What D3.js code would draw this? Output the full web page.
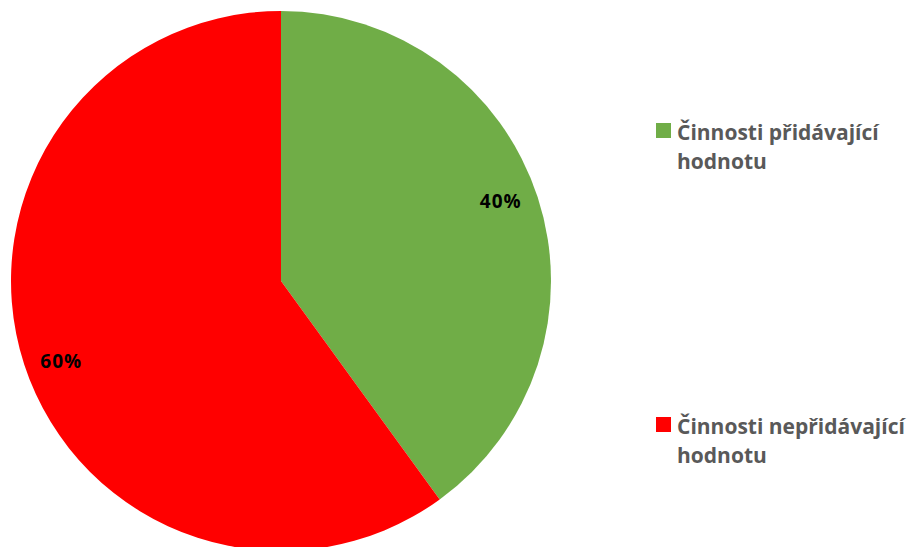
<!DOCTYPE html>
<html><head><meta charset="utf-8">
<script src="https://cdn.jsdelivr.net/npm/d3@7"></script>
<style>body{margin:0;background:#fff}svg{display:block}</style>
</head><body>
<script>
const categories = ["Činnosti přidávající hodnotu", "Činnosti nepřidávající hodnotu"];
const values = [40, 60];
const labels = ["40%", "60%"];
const legendLines = [["Činnosti přidávající", "hodnotu"], ["Činnosti nepřidávající", "hodnotu"]];
const colors = ["#70AD47", "#FF0000"];

const W = 914, H = 547;
const svg = d3.select("body").append("svg").attr("width", W).attr("height", H);
const cx = 281, cy = 281, r = 270;
const pie = d3.pie().sort(null).value(d => d)(values);
const arc = d3.arc().innerRadius(0).outerRadius(r);
const lr = r * 0.866, shift = -2 * Math.PI / 180;
const g = svg.append("g").attr("transform", `translate(${cx},${cy})`);
g.selectAll("path").data(pie).join("path").attr("d", arc).attr("fill", (d, i) => colors[i]);
g.selectAll("text").data(pie).join("text")
  .attr("x", d => lr * Math.sin((d.startAngle + d.endAngle) / 2 + shift))
  .attr("y", d => -lr * Math.cos((d.startAngle + d.endAngle) / 2 + shift) + 7)
  .attr("text-anchor", "middle")
  .attr("font-family", "'Open Sans', sans-serif").attr("font-weight", "bold").attr("font-size", 19)
  .attr("letter-spacing", 1)
  .attr("fill", "#000").text((d, i) => labels[i]);

const legTop = [123, 417];
const lg = svg.append("g");
legendLines.forEach((lines, i) => {
  lg.append("rect").attr("x", 656).attr("y", legTop[i]).attr("width", 15).attr("height", 15).attr("fill", colors[i]);
  lines.forEach((t, j) => {
    lg.append("text").attr("x", 677).attr("y", legTop[i] + 17 + j * 29)
      .attr("font-family", "'Open Sans', sans-serif").attr("font-weight", "bold").attr("font-size", 21)
      .attr("fill", "#595959").text(t);
  });
});
</script>
</body></html>
